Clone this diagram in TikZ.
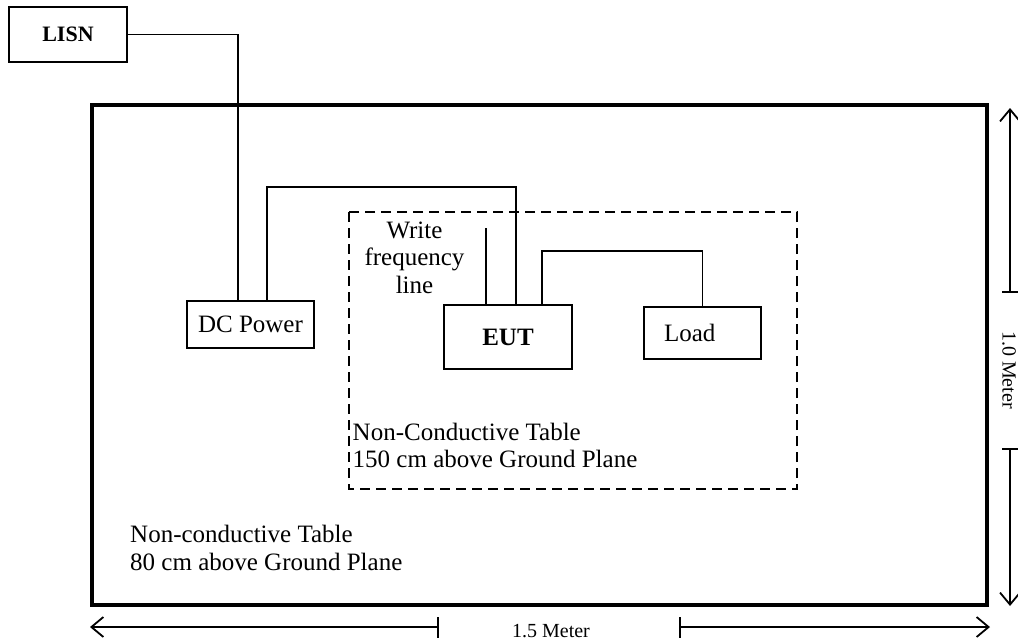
\documentclass[tikz,border=0pt]{standalone}
\usepackage{fontspec}
\setmainfont{Liberation Serif}
\usetikzlibrary{arrows.meta}
\tikzset{
  box/.style={draw, line width=1.8pt, inner sep=0pt, font=\fontsize{25}{28}\selectfont},
  wire/.style={line width=1.6pt},
  lbl/.style={inner sep=0pt, font=\fontsize{25}{28}\selectfont},
  dimlbl/.style={inner sep=0pt, font=\fontsize{20}{24}\selectfont},
  dimline/.style={line width=1.3pt},
  dimarrow/.style={line width=1.3pt, -{Straight Barb[length=12pt,width=20pt,line width=1.8pt]}},
}
\begin{document}
\begin{tikzpicture}[x=1pt,y=-1pt]
\useasboundingbox (0,0) rectangle (1018,643);
% outer table
\draw[line width=3.2pt] (92,105) rectangle (987,605);
% inner dashed table
\draw[line width=2.2pt, dash pattern=on 10pt off 6pt] (349,212) rectangle (797,489);

% boxes
\node[box, minimum width=118pt, minimum height=55pt] (lisn) at (68,34.5) {\fontsize{22}{26}\selectfont\bfseries LISN};
\node[box, minimum width=127pt, minimum height=47pt] (dc) at (250.5,324.5) {DC Power};
\node[box, minimum width=128pt, minimum height=64pt] (eut) at (508,337) {\bfseries EUT};
\node[box, minimum width=117pt, minimum height=52pt, text width=117pt, align=left] (load) at (702.5,333) {\hspace*{20pt}Load};

% connectors
\coordinate (c1) at (400,187);
\coordinate (c2) at (600,251);
\coordinate (wtop) at (486,228);
\draw[wire] (lisn.east) -| ([xshift=-12.5pt]dc.north);
\draw[wire] ([xshift=16.5pt]dc.north) |- (c1) -| ([xshift=8pt]eut.north);
\draw[wire] ([xshift=34pt]eut.north) |- (c2) -| (load.north);
\draw[wire] (wtop) -- (wtop |- eut.north);

% labels
\node[lbl, anchor=base] (w1) at (414.5,238) {Write};
\node[lbl, anchor=base] (w2) at (414.5,265.5) {frequency};
\node[lbl, anchor=base] (w3) at (414.5,293) {line};
\node[lbl, anchor=base west] (t1) at (352.5,440) {Non-Conductive Table};
\node[lbl, anchor=base west] (t2) at (352.5,467) {150 cm above Ground Plane};
\node[lbl, anchor=base west] (g1) at (130,542) {Non-conductive Table};
\node[lbl, anchor=base west] (g2) at (130,570) {80 cm above Ground Plane};

% bottom dimension
\node[dimlbl, anchor=base] (m15) at (551,637) {1.5 Meter};
\coordinate (bl) at (90,627);
\coordinate (br) at (990,627);
\coordinate (btl) at (438,627);
\coordinate (btr) at (680,627);
\draw[dimarrow] (btl) -- (bl);
\draw[dimarrow] (btr) -- (br);
\draw[dimline] ([yshift=10pt]btl) -- ([yshift=-11pt]btl);
\draw[dimline] ([yshift=10pt]btr) -- ([yshift=-11pt]btr);

% right dimension
\node[dimlbl, rotate=-90] (m10) at (1009,370) {1.0 Meter};
\coordinate (rt) at (1010,108);
\coordinate (rb) at (1010,606);
\coordinate (rtt) at (1010,292);
\coordinate (rtb) at (1010,449);
\draw[dimarrow] (rtt) -- (rt);
\draw[dimarrow] (rtb) -- (rb);
\draw[dimline] ([xshift=-8pt]rtt) -- ([xshift=8pt]rtt);
\draw[dimline] ([xshift=-8pt]rtb) -- ([xshift=8pt]rtb);
\end{tikzpicture}
\end{document}
